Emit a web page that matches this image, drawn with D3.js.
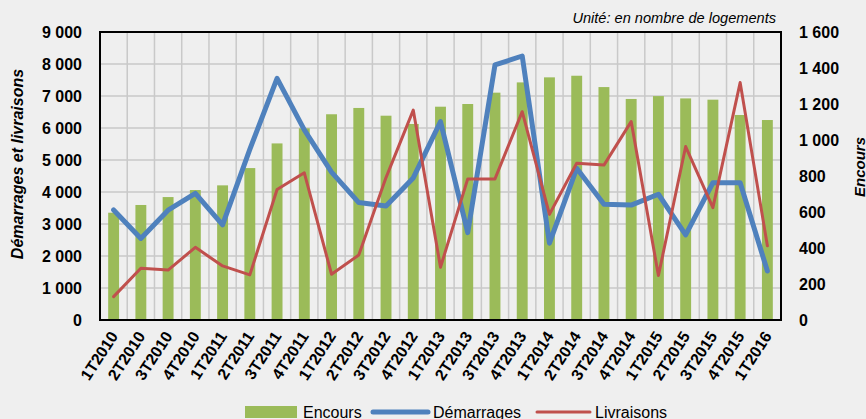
<!DOCTYPE html>
<html>
<head>
<meta charset="utf-8">
<script src="https://cdn.jsdelivr.net/npm/d3@7"></script>
<style>
  body { margin: 0; background: #efefef; }
  svg { display: block; font-family: "Liberation Sans", Arial, sans-serif; }
</style>
</head>
<body>
<svg width="866" height="419"></svg>
<script>
// trimestres
var categories = ["1T2010","2T2010","3T2010","4T2010","1T2011","2T2011","3T2011","4T2011",
    "1T2012","2T2012","3T2012","4T2012","1T2013","2T2013","3T2013","4T2013",
    "1T2014","2T2014","3T2014","4T2014","1T2015","2T2015","3T2015","4T2015","1T2016"];

// Encours (axe de droite)
var encours = [596, 639, 683, 722, 748, 844, 981, 1065, 1143, 1178, 1135, 1089, 1185,
    1200, 1263, 1320, 1348, 1357, 1294, 1228, 1244, 1231, 1224, 1139, 1111];

// Démarrages et livraisons (axe de gauche)
var demarrages = [3440, 2550, 3430, 3960, 2970, 5330, 7550, 5940, 4620, 3670, 3560, 4440,
    6200, 2730, 7970, 8250, 2400, 4740, 3620, 3590, 3930, 2660, 4290, 4290, 1530];
var livraisons = [730, 1615, 1560, 2270, 1690, 1410, 4080, 4600, 1430, 2030, 4450, 6560,
    1650, 4410, 4410, 6510, 3300, 4900, 4840, 6200, 1390, 5420, 3510, 7420, 2320];

var leftTicks = [0, 1000, 2000, 3000, 4000, 5000, 6000, 7000, 8000, 9000];
var rightTicks = [0, 200, 400, 600, 800, 1000, 1200, 1400, 1600];

var svg = d3.select("svg");
var pLeft = 100, pRight = 781, pTop = 32, pBottom = 320;

var fr = d3.formatLocale({decimal: ",", thousands: " ", grouping: [3], currency: ["", " €"]});
var fmt = fr.format(",");

var x = d3.scaleBand().domain(categories).range([pLeft, pRight]);
var yL = d3.scaleLinear().domain([0, 9000]).range([pBottom, pTop]);
var yR = d3.scaleLinear().domain([0, 1600]).range([pBottom, pTop]);

// grille
var grid = svg.append("g").attr("stroke", "#c9c9c9").attr("stroke-width", 1.5);
grid.selectAll(".h").data(leftTicks.slice(1))
    .enter().append("line")
    .attr("x1", pLeft).attr("x2", pRight)
    .attr("y1", function (d) { return yL(d); })
    .attr("y2", function (d) { return yL(d); });
grid.selectAll(".v").data(categories.slice(1))
    .enter().append("line")
    .attr("x1", function (d) { return x(d); })
    .attr("x2", function (d) { return x(d); })
    .attr("y1", pTop).attr("y2", pBottom);

// barres encours
var bw = x.bandwidth() * 0.4;
svg.append("g").selectAll("rect")
    .data(encours)
    .enter().append("rect")
    .attr("x", function (d, i) { return x(categories[i]) + x.bandwidth() / 2 - bw / 2; })
    .attr("y", function (d) { return yR(d); })
    .attr("width", bw)
    .attr("height", function (d) { return yR(0) - yR(d); })
    .attr("fill", "#9bbb59");

var line = d3.line()
    .x(function (d, i) { return x(categories[i]) + x.bandwidth() / 2; })
    .y(function (d) { return yL(d); });

svg.append("path").datum(demarrages)
    .attr("d", line)
    .attr("fill", "none")
    .attr("stroke", "#4f81bd")
    .attr("stroke-width", 5)
    .attr("stroke-linejoin", "round")
    .attr("stroke-linecap", "round");

svg.append("path").datum(livraisons)
    .attr("d", line)
    .attr("fill", "none")
    .attr("stroke", "#c0504d")
    .attr("stroke-width", 3)
    .attr("stroke-linejoin", "round")
    .attr("stroke-linecap", "round");

// cadre
svg.append("rect")
    .attr("x", pLeft).attr("y", pTop)
    .attr("width", pRight - pLeft).attr("height", pBottom - pTop)
    .attr("fill", "none").attr("stroke", "#000").attr("stroke-width", 2);

// axes
var axL = svg.append("g").attr("transform", "translate(" + pLeft + ",0)")
    .call(d3.axisLeft(yL).tickValues(leftTicks).tickFormat(fmt).tickSize(0).tickPadding(18));
var axR = svg.append("g").attr("transform", "translate(" + pRight + ",0)")
    .call(d3.axisRight(yR).tickValues(rightTicks).tickFormat(fmt).tickSize(0).tickPadding(18));
[axL, axR].forEach(function (a) {
    a.select(".domain").remove();
    a.selectAll("text")
        .attr("font-family", "Liberation Sans, Arial, sans-serif")
        .attr("font-size", 16)
        .attr("font-weight", "bold")
        .attr("fill", "#000");
});

var axX = svg.append("g").attr("transform", "translate(0," + pBottom + ")")
    .call(d3.axisBottom(x).tickSize(0).tickPadding(0));
axX.select(".domain").remove();
axX.selectAll("text")
    .attr("font-family", "Liberation Sans, Arial, sans-serif")
    .attr("font-size", 16)
    .attr("font-weight", "bold")
    .attr("fill", "#000")
    .attr("text-anchor", "end")
    .attr("dy", null)
    .attr("y", 0)
    .attr("transform", "translate(5,16) rotate(-57)");

// titres des axes
svg.append("text")
    .attr("transform", "translate(23,164) rotate(-90)")
    .attr("text-anchor", "middle")
    .attr("font-size", 16).attr("font-weight", "bold").attr("font-style", "italic")
    .text("Démarrages et livraisons");

svg.append("text")
    .attr("transform", "translate(865,167) rotate(-90)")
    .attr("text-anchor", "middle")
    .attr("font-size", 15).attr("font-weight", "bold").attr("font-style", "italic")
    .text("Encours");

svg.append("text")
    .attr("x", 776).attr("y", 23)
    .attr("text-anchor", "end")
    .attr("font-size", 14.6).attr("font-style", "italic")
    .text("Unité: en nombre de logements");

// légende
var legend = svg.append("g").attr("transform", "translate(0,412)");
legend.append("rect").attr("x", 245).attr("y", -6).attr("width", 52).attr("height", 12).attr("fill", "#9bbb59");
legend.append("text").attr("x", 303).attr("y", 6).attr("font-size", 16).text("Encours");
legend.append("line").attr("x1", 373).attr("x2", 428).attr("y1", 0).attr("y2", 0)
    .attr("stroke", "#4f81bd").attr("stroke-width", 5).attr("stroke-linecap", "round");
legend.append("text").attr("x", 433).attr("y", 6).attr("font-size", 16).text("Démarrages");
legend.append("line").attr("x1", 537).attr("x2", 590).attr("y1", 0).attr("y2", 0)
    .attr("stroke", "#c0504d").attr("stroke-width", 3).attr("stroke-linecap", "round");
legend.append("text").attr("x", 595).attr("y", 6).attr("font-size", 16).text("Livraisons");
</script>
</body>
</html>
